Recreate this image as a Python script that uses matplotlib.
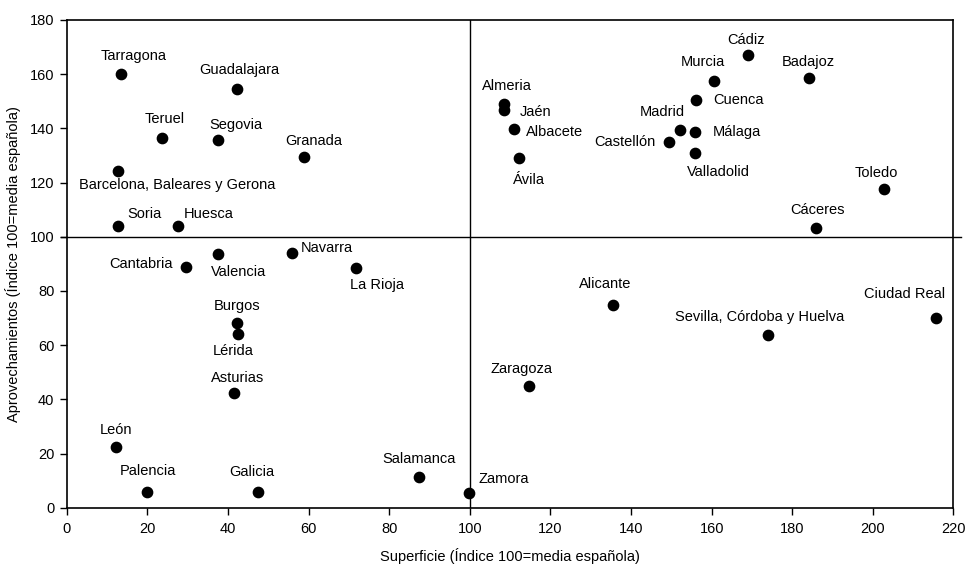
import matplotlib
matplotlib.use("Agg")
import matplotlib.pyplot as plt


# ==========================================================
# DATOS
# ==========================================================

provincias = [
    "Tarragona", "Guadalajara", "Teruel", "Segovia", "Granada",
    "Barcelona, Baleares y Gerona", "Soria", "Huesca",
    "Cádiz", "Murcia", "Badajoz", "Almeria", "Jaén", "Albacete",
    "Ávila", "Cuenca", "Madrid", "Málaga", "Castellón", "Valladolid",
    "Toledo", "Cáceres",
    "Navarra", "Valencia", "Cantabria", "La Rioja", "Burgos", "Lérida",
    "Asturias", "León", "Palencia", "Galicia", "Salamanca", "Zamora",
    "Alicante", "Ciudad Real", "Sevilla, Córdoba y Huelva", "Zaragoza"
]

superficie = [
    13.5, 42.2, 23.6, 37.6, 58.8,
    12.7, 12.6, 27.6,
    169.1, 160.7, 184.1, 108.5, 108.5, 111.0,
    112.3, 156.1, 152.1, 155.9, 149.4, 155.9,
    202.8, 185.9,
    56.0, 37.4, 29.6, 71.7, 42.2, 42.4,
    41.5, 12.2, 19.9, 47.5, 87.5, 99.7,
    135.5, 215.6, 174.1, 114.6
]

aprovechamientos = [
    160.1, 154.5, 136.3, 135.8, 129.3,
    124.2, 103.8, 103.8,
    167.2, 157.6, 158.4, 148.8, 146.8, 139.6,
    128.9, 150.3, 139.5, 138.5, 135.1, 130.9,
    117.7, 103.4,
    94.0, 93.7, 88.8, 88.3, 68.2, 64.2,
    42.5, 22.5, 5.8, 5.8, 11.2, 5.4,
    74.7, 70.2, 63.7, 45.0
]

# posición de cada etiqueta respecto al punto (pixeles, alineación)
etiquetas = {
    "Tarragona": (12, 18, "center"),
    "Guadalajara": (2, 19, "center"),
    "Teruel": (3, 19, "center"),
    "Segovia": (18, 15, "center"),
    "Granada": (10, 16, "center"),
    "Barcelona, Baleares y Gerona": (59, -14, "center"),
    "Soria": (27, 12, "center"),
    "Huesca": (31, 12, "center"),
    "Cádiz": (-2, 15, "center"),
    "Murcia": (-12, 19, "center"),
    "Badajoz": (0, 16, "center"),
    "Almeria": (3, 18, "center"),
    "Jaén": (16, -2, "left"),
    "Albacete": (12, -3, "left"),
    "Ávila": (10, -22, "center"),
    "Cuenca": (17, 0, "left"),
    "Madrid": (-18, 18, "center"),
    "Málaga": (18, 0, "left"),
    "Castellón": (-13, 0, "right"),
    "Valladolid": (23, -19, "center"),
    "Toledo": (-8, 16, "center"),
    "Cáceres": (1, 18, "center"),
    "Navarra": (8, 5, "left"),
    "Valencia": (21, -18, "center"),
    "Cantabria": (-13, 3, "right"),
    "La Rioja": (21, -17, "center"),
    "Burgos": (0, 17, "center"),
    "Lérida": (-4, -17, "center"),
    "Asturias": (4, 15, "center"),
    "León": (0, 17, "center"),
    "Palencia": (1, 21, "center"),
    "Galicia": (-6, 20, "center"),
    "Salamanca": (0, 18, "center"),
    "Zamora": (10, 14, "left"),
    "Alicante": (-8, 21, "center"),
    "Ciudad Real": (-31, 24, "center"),
    "Sevilla, Córdoba y Huelva": (-9, 18, "center"),
    "Zaragoza": (-7, 17, "center"),
}


# ==========================================================
# GRAFICO
# ==========================================================

plt.rcParams["font.family"] = ["Liberation Sans", "DejaVu Sans"]

fig = plt.figure(figsize=(9.68, 5.68), dpi=100)

ax = fig.add_axes([0.069, 0.106, 0.916, 0.859])

ax.scatter(
    superficie,
    aprovechamientos,
    s=55,
    color="black",
    zorder=3
)

for nombre, x, y in zip(provincias, superficie, aprovechamientos):

    dx, dy, ha = etiquetas[nombre]

    ax.annotate(
        nombre,
        (x, y),
        xytext=(dx, dy),
        textcoords="offset pixels",
        ha=ha,
        va="center",
        fontsize=10.5
    )

# lineas de referencia (media española)
ax.axvline(100, color="black", linewidth=1)
ax.axhline(100, xmin=-0.006, xmax=1.008, color="black",
           linewidth=1, clip_on=False)

ax.set_xlim(0, 220)
ax.set_ylim(0, 180)

ax.set_xticks(range(0, 221, 20))
ax.set_yticks(range(0, 181, 20))

ax.tick_params(direction="out", length=5, width=1,
               labelsize=10.5, colors="black")
ax.tick_params(axis="x", pad=5)
ax.tick_params(axis="y", pad=4)

for lado in ax.spines.values():
    lado.set_linewidth(1.2)
    lado.set_color("black")

ax.set_xlabel("Superficie (Índice 100=media española)", fontsize=10.5,
              labelpad=9)
ax.set_ylabel("Aprovechamientos (Índice 100=media española)", fontsize=10.5,
              labelpad=6)

fig.savefig("out.png", dpi=100)
